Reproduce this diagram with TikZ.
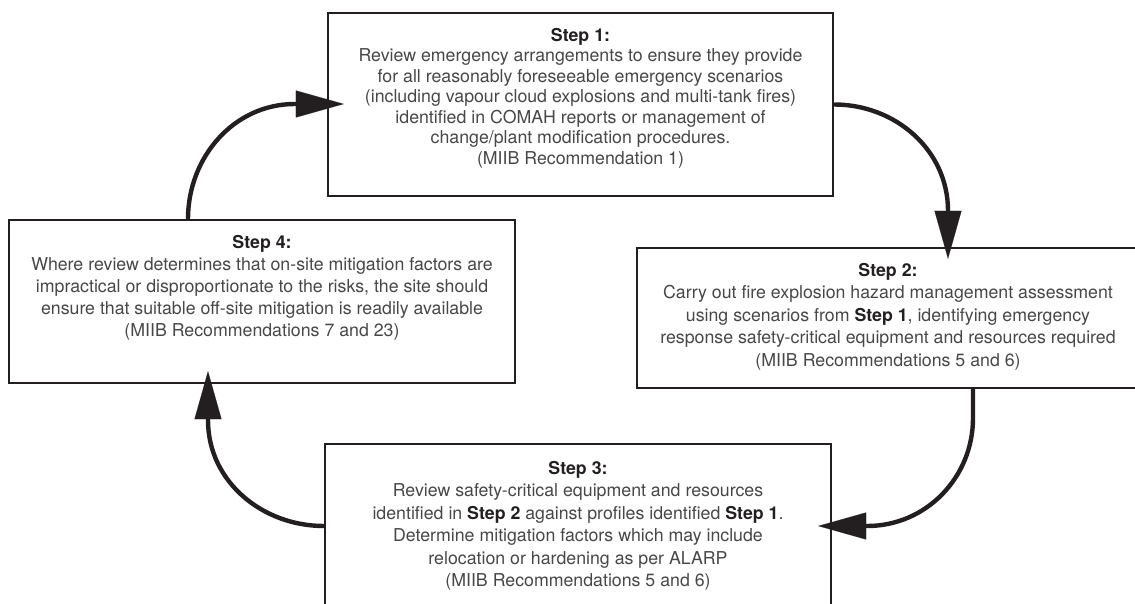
\documentclass[tikz,border=0pt]{standalone}
\usepackage{fontspec}
\setmainfont{TeX Gyre Heros}
\usetikzlibrary{arrows.meta,calc}
\definecolor{ink}{HTML}{231F20}
\definecolor{txt}{HTML}{474747}
\newcommand{\stb}[1]{{\bfseries\color{ink}#1}}
\begin{document}
\begin{tikzpicture}[x=1pt,y=1pt,
  box/.style={draw=ink,line width=2.4pt,inner sep=0pt},
  txtnode/.style={align=center,inner sep=0pt,text=txt,anchor=north},
  arr/.style={draw=ink,line width=4.4pt,-{Triangle[length=48pt,width=27pt,line width=0.1pt]}}]
\useasboundingbox (0,0) rectangle (1135,603);
\clip (0,0) rectangle (1135,603);
% boxes
\node[box,minimum width=505pt,minimum height=183pt] (b1) at (580.5,498.5) {};
\node[box,minimum width=502pt,minimum height=140pt] (b2) at (888,285) {};
\node[box,minimum width=506pt,minimum height=171pt] (b3) at (578,73.5) {};
\node[box,minimum width=506pt,minimum height=163pt] (b4) at (262,301.5) {};
% texts
\node[txtnode,font=\fontsize{17.75}{20.5}\selectfont] (t1) at ([yshift=-16pt]b1.north)
 {\stb{Step 1:}\\Review emergency arrangements to ensure they provide\\for all reasonably foreseeable emergency scenarios\\(including vapour cloud explosions and multi-tank fires)\\identified in COMAH reports or management of\\change/plant modification procedures.\\(MIIB Recommendation 1)};
\node[txtnode,font=\fontsize{17.75}{22.5}\selectfont] (t2) at ([yshift=-16pt]b2.north)
 {\stb{Step 2:}\\Carry out fire explosion hazard management assessment\\using scenarios from \stb{Step 1}, identifying emergency\\response safety-critical equipment and resources required\\(MIIB Recommendations 5 and 6)};
\node[txtnode,font=\fontsize{17.75}{22.5}\selectfont] (t3) at ([yshift=-18pt]b3.north)
 {\stb{Step 3:}\\Review safety-critical equipment and resources\\identified in \stb{Step 2} against profiles identified \stb{Step 1}.\\Determine mitigation factors which may include\\relocation or hardening as per ALARP\\(MIIB Recommendations 5 and 6)};
\node[txtnode,font=\fontsize{17.75}{22}\selectfont] (t4) at ([yshift=-16pt]b4.north)
 {\stb{Step 4:}\\Where review determines that on-site mitigation factors are\\impractical or disproportionate to the risks, the site should\\ensure that suitable off-site mitigation is readily available\\(MIIB Recommendations 7 and 23)};
% arrow end points
\coordinate (a1t) at ($(b2.north)+(60,-12)$);
\coordinate (a1c) at ($(a1t)+(0,48)$);
\coordinate (a2s) at ($(b2.south)+(85,0)$);
\coordinate (a2v) at ($(a2s)+(0,-29)$);
\coordinate (a2t) at ($(b3.east)+(-14,3.5)$);
\coordinate (a2c) at ($(a2t)+(49,0)$);
\coordinate (a3s) at ([yshift=3.5pt]b3.west);
\coordinate (a3t) at ($(b4.south)+(-54,13)$);
\coordinate (a3c) at ($(a3t)+(0,-49)$);
\coordinate (a4s) at ($(b4.north)+(-74,0)$);
\coordinate (a4t) at ($(b1.west)+(17,0.5)$);
\coordinate (a4c) at ($(a4t)+(-49,0)$);
% arrows
\draw[arr] (b1.east) to[out=0,in=90] (a1c) -- (a1t);
\draw[arr] (a2s) -- (a2v) to[out=-90,in=0] (a2c) -- (a2t);
\draw[arr] (a3s) to[out=180,in=-90] (a3c) -- (a3t);
\draw[arr] (a4s) to[out=90,in=180] (a4c) -- (a4t);
\end{tikzpicture}
\end{document}
